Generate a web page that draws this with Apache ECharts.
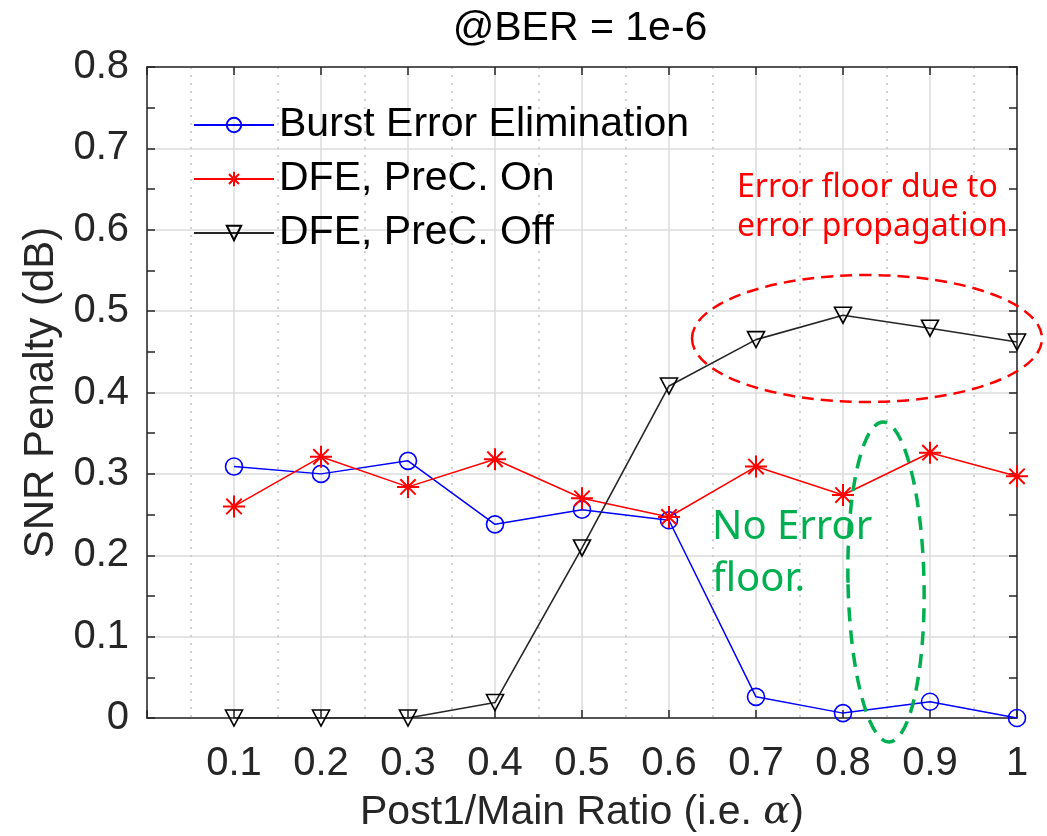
<!DOCTYPE html>
<html>
<head>
<meta charset="utf-8">
<script src="https://cdn.jsdelivr.net/npm/echarts@6/dist/echarts.min.js"></script>
<style>html,body{margin:0;padding:0;background:#fff;}#c{width:1047px;height:836px;}</style>
</head>
<body>
<div id="c"></div>
<script>
const alphas = [0.1, 0.2, 0.3, 0.4, 0.5, 0.6, 0.7, 0.8, 0.9, 1.0];
const burstElim = [0.309, 0.300, 0.316, 0.238, 0.256, 0.243, 0.026, 0.006, 0.020, 0.000];
const dfePrecOn = [0.260, 0.321, 0.284, 0.318, 0.270, 0.247, 0.309, 0.274, 0.326, 0.297];
const dfePrecOff = [0.000, 0.000, 0.000, 0.019, 0.209, 0.408, 0.465, 0.495, 0.479, 0.462];
const seriesNames = ['Burst Error Elimination', 'DFE, PreC. On', 'DFE, PreC. Off'];
const titleText = '@BER = 1e-6';
const xName = 'Post1/Main Ratio (i.e. {a|α})';
const yName = 'SNR Penalty (dB)';
const noteRed = ['Error floor due to', 'error propagation'];
const noteGreen = ['No Error', 'floor.'];

const pairs = ys => alphas.map((x, i) => [x, ys[i]]);
const FONT = '"Liberation Sans", Arial, Helvetica, sans-serif';
const AX = '#262626';
const chart = echarts.init(document.getElementById('c'), null, {renderer: 'canvas'});

const boxAxis = {
  axisLine: {show: true, onZero: false, lineStyle: {color: AX, width: 1.5}},
  axisTick: {show: true, inside: true, length: 8, lineStyle: {color: AX, width: 1.5}},
};

chart.setOption({
  animation: false,
  backgroundColor: '#fff',
  grid: {left: 147, right: 30, top: 67, bottom: 118, containLabel: false, outerBoundsMode: 'none'},
  xAxis: [{
    type: 'value', min: 0, max: 1, interval: 0.1, position: 'bottom',
    ...boxAxis,
    axisLabel: {color: AX, fontFamily: FONT, fontSize: 40, margin: 26,
      formatter: v => (Math.abs(v) < 1e-9 ? '' : String(+v.toFixed(1)))},
    splitLine: {show: true, lineStyle: {color: '#dcdcdc', width: 1.5}},
    minorTick: {show: false, splitNumber: 2},
    minorSplitLine: {show: true, lineStyle: {color: '#c4c4c4', width: 1.5, type: [2, 6]}},
    name: xName, nameLocation: 'middle', nameGap: 74,
    nameTextStyle: {color: AX, fontFamily: FONT, fontSize: 41,
      rich: {a: {fontFamily: '"DejaVu Serif", serif', fontStyle: 'italic', fontSize: 40, color: AX}}}
  }, {
    type: 'value', min: 0, max: 1, interval: 0.1, position: 'top',
    ...boxAxis, axisLabel: {show: false}, splitLine: {show: false}
  }],
  yAxis: [{
    type: 'value', min: 0, max: 0.8, interval: 0.1, position: 'left',
    ...boxAxis,
    axisLabel: {color: AX, fontFamily: FONT, fontSize: 40, margin: 18,
      formatter: v => String(+v.toFixed(1))},
    minorTick: {show: true, splitNumber: 2, length: 8, lineStyle: {color: AX, width: 1.5}},
    splitLine: {show: true, lineStyle: {color: '#dcdcdc', width: 1.5}},
    name: yName, nameLocation: 'middle', nameGap: 82,
    nameTextStyle: {color: AX, fontFamily: FONT, fontSize: 42}
  }, {
    type: 'value', min: 0, max: 0.8, interval: 0.1, position: 'right',
    ...boxAxis, axisLabel: {show: false}, splitLine: {show: false},
    minorTick: {show: true, splitNumber: 2, length: 8, lineStyle: {color: AX, width: 1.5}}
  }],
  legend: {
    orient: 'vertical', left: 188, top: 93, itemGap: 0,
    itemWidth: 80, itemHeight: 18,
    textStyle: {color: '#000', fontFamily: FONT, fontSize: 41, lineHeight: 54},
    data: seriesNames
  },
  series: [{
    name: seriesNames[0], type: 'line', data: pairs(burstElim),
    symbol: 'circle', symbolSize: 17,
    lineStyle: {color: '#0000ff', width: 1.5},
    itemStyle: {color: 'rgba(255,255,255,0)', borderColor: '#0000ff', borderWidth: 1.6},
    emphasis: {disabled: true}, z: 3
  }, {
    name: seriesNames[1], type: 'line', data: pairs(dfePrecOn),
    symbol: 'path://M10,0L10,20M0,10L20,10M3,3L17,17M3,17L17,3', symbolSize: 22,
    lineStyle: {color: '#ff0000', width: 1.5},
    itemStyle: {color: 'rgba(255,255,255,0)', borderColor: '#ff0000', borderWidth: 2},
    emphasis: {disabled: true}, z: 3
  }, {
    name: seriesNames[2], type: 'line', data: pairs(dfePrecOff),
    symbol: 'path://M0,0L18,0L9,16Z', symbolSize: [17, 16],
    lineStyle: {color: '#262626', width: 1.6},
    itemStyle: {color: 'rgba(255,255,255,0)', borderColor: '#000', borderWidth: 1.6},
    emphasis: {disabled: true}, z: 3
  }],
  graphic: [
    {type: 'text', x: 580, y: 29, z: 100,
      style: {text: titleText, fill: '#000', font: '41px ' + FONT, textAlign: 'center', textVerticalAlign: 'middle'}},
    {type: 'ellipse', z: 100, shape: {cx: 867, cy: 338.5, rx: 175, ry: 63.5},
      style: {fill: 'none', stroke: '#ff0000', lineWidth: 2.5, lineDash: [12, 7]}},
    {type: 'ellipse', z: 100, x: 886, y: 582, rotation: 0.02, shape: {cx: 0, cy: 0, rx: 38, ry: 160},
      style: {fill: 'none', stroke: '#00b050', lineWidth: 3.5, lineDash: [14, 9]}},
    {type: 'text', x: 737, y: 188, z: 100,
      style: {text: noteRed[0], fill: '#ff0000', font: '32px "Noto Sans", "Open Sans", sans-serif', textVerticalAlign: 'middle'}},
    {type: 'text', x: 737, y: 227, z: 100,
      style: {text: noteRed[1], fill: '#ff0000', font: '32px "Noto Sans", "Open Sans", sans-serif', textVerticalAlign: 'middle'}},
    {type: 'text', x: 712, y: 528, z: 100,
      style: {text: noteGreen[0], fill: '#00b050', font: '40px "Noto Sans", "Open Sans", sans-serif', textVerticalAlign: 'middle'}},
    {type: 'text', x: 712, y: 580, z: 100,
      style: {text: noteGreen[1], fill: '#00b050', font: '40px "Noto Sans", "Open Sans", sans-serif', textVerticalAlign: 'middle'}}
  ]
});
</script>
</body>
</html>
